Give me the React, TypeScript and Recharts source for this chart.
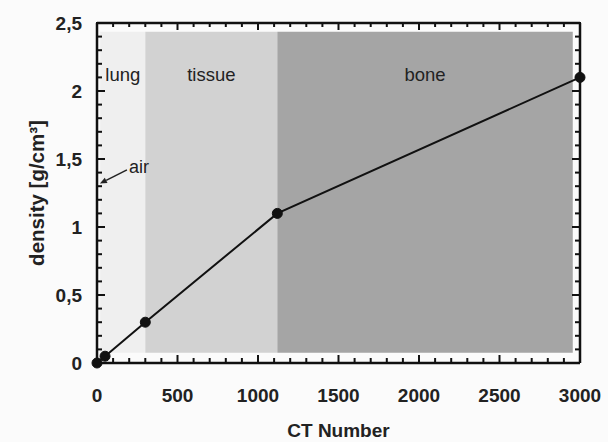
import React from 'react';
import {
  ComposedChart,
  Line,
  XAxis,
  YAxis,
  ReferenceArea,
  ReferenceLine,
  Label,
} from 'recharts';

// measured points of the calibration curve
const ctNumbers = [0, 50, 300, 1120, 3000];
const densities = [0, 0.05, 0.3, 1.1, 2.1];

// tissue regions along the CT axis
const regionNames = ['lung', 'tissue', 'bone'];
const regionStarts = [20, 300, 1120];
const regionEnds = [300, 1120, 2955];
const regionBottom = 0.075;
const regionTop = 2.435;

const xMajorTicks = [0, 500, 1000, 1500, 2000, 2500, 3000];
const yMajorTicks = [0, 0.5, 1, 1.5, 2, 2.5];

const xTicks = Array.from({ length: 31 }, (_, i) => i * 100);
const yTicks = Array.from({ length: 26 }, (_, i) => i / 10);

const X_MAX = 3000;
const Y_MAX = 2.5;

const data = ctNumbers.map((ct, i) => ({ ct, density: densities[i] }));

const W = 608;
const H = 442;
const MARGIN = { top: 22, right: 27, left: 0, bottom: 0 };
const RIGHT_AXIS_W = 1;

const FONT = '"Liberation Sans", Arial, sans-serif';
const regionFills = ['#efefef', '#d2d2d2', '#a5a5a5'];
const INK = '#111';

const isMajorX = (v: number) => xMajorTicks.includes(v);
const isMajorY = (v: number) => yMajorTicks.some((t) => Math.abs(t - v) < 1e-6);

const bottomTick = ({ x, y, payload, index }: any) => {
  const v = payload.value;
  if (!isMajorX(v)) return <g key={`bt-${index}`} />;
  return (
    <text key={`bt-${index}`} x={x} y={y + 39} textAnchor="middle" fontFamily={FONT} fontWeight="bold" fontSize={19} fill="#222">
      {v}
    </text>
  );
};

const leftTick = ({ x, y, payload, index }: any) => {
  const v = payload.value;
  if (!isMajorY(v)) return <g key={`lt-${index}`} />;
  return (
    <text key={`lt-${index}`} x={x - 15} y={y} dy="0.36em" textAnchor="end" fontFamily={FONT} fontWeight="bold" fontSize={19} fill="#222">
      {String(Math.round(v * 10) / 10).replace('.', ',')}
    </text>
  );
};

// x label + inward ticks on bottom and top frame, placed from the axis viewBox
const XAxisDecor = ({ viewBox }: any) => {
  const top = MARGIN.top;
  const bottom = viewBox.y;
  return (
    <g>
      {xTicks.map((v) => {
        const px = viewBox.x + (viewBox.width * v) / X_MAX;
        const len = isMajorX(v) ? 8 : 5;
        return (
          <g key={`xm-${v}`}>
            <line x1={px} x2={px} y1={bottom} y2={bottom - len} stroke={INK} strokeWidth={2} />
            <line x1={px} x2={px} y1={top} y2={top + len} stroke={INK} strokeWidth={2} />
          </g>
        );
      })}
      <text
        x={viewBox.x + viewBox.width / 2}
        y={viewBox.y + 74}
        textAnchor="middle"
        fontFamily={FONT}
        fontWeight="bold"
        fontSize={19}
        fill="#222"
      >
        CT Number
      </text>
    </g>
  );
};

// y label + inward ticks on left and right frame
const YAxisDecor = ({ viewBox }: any) => {
  const left = viewBox.x + viewBox.width;
  const right = W - MARGIN.right - RIGHT_AXIS_W;
  const cx = 37;
  const cy = viewBox.y + viewBox.height / 2;
  return (
    <g>
      {yTicks.map((v) => {
        const py = viewBox.y + viewBox.height * (1 - v / Y_MAX);
        const len = isMajorY(v) ? 8 : 5;
        return (
          <g key={`ym-${v}`}>
            <line x1={left} x2={left + len} y1={py} y2={py} stroke={INK} strokeWidth={2} />
            <line x1={right} x2={right - len} y1={py} y2={py} stroke={INK} strokeWidth={2} />
          </g>
        );
      })}
      <text
        x={cx}
        y={cy}
        transform={`rotate(-90 ${cx} ${cy})`}
        textAnchor="middle"
        dy="0.35em"
        fontFamily={FONT}
        fontWeight="bold"
        fontSize={20.5}
        fill="#222"
      >
        density [g/cm³]
      </text>
    </g>
  );
};

const AirArrow = ({ x1, y1, x2, y2 }: any) => {
  const ang = Math.atan2(y2 - y1, x2 - x1);
  const len = 7;
  const w = 3;
  const bx = x2 - len * Math.cos(ang);
  const by = y2 - len * Math.sin(ang);
  const px = -Math.sin(ang) * w;
  const py = Math.cos(ang) * w;
  return (
    <g>
      <line x1={x1} y1={y1} x2={bx} y2={by} stroke="#222" strokeWidth={1.5} />
      <polygon points={`${x2},${y2} ${bx + px},${by + py} ${bx - px},${by - py}`} fill="#222" />
      <text x={x1 + 2} y={y1} dy="0.2em" fontFamily={FONT} fontSize={18} fill="#222">
        air
      </text>
    </g>
  );
};

export default function App() {
  return (
    <div style={{ position: 'absolute', left: 0, top: 0, width: W, height: H, background: '#fbfbfb' }}>
      <ComposedChart width={W} height={H} data={data} margin={MARGIN}>
        {regionNames.map((name, i) => (
          <ReferenceArea
            key={`region-${name}`}
            x1={regionStarts[i]}
            x2={regionEnds[i]}
            y1={regionBottom}
            y2={regionTop}
            fill={regionFills[i]}
            fillOpacity={1}
            stroke="none"
            ifOverflow="visible"
            label={{ value: name, position: 'insideTop', offset: 36, fontSize: 18.5, fill: '#222', fontFamily: FONT }}
          />
        ))}
        <XAxis
          dataKey="ct"
          type="number"
          domain={[0, X_MAX]}
          ticks={xTicks}
          interval={0}
          tickSize={0}
          tickMargin={0}
          tickLine={false}
          height={79}
          axisLine={{ stroke: INK, strokeWidth: 2.5 }}
          tick={bottomTick}
        >
          <Label content={(p: any) => <XAxisDecor viewBox={p.viewBox} />} />
        </XAxis>
        <XAxis
          xAxisId="top"
          dataKey="ct"
          orientation="top"
          type="number"
          domain={[0, X_MAX]}
          tick={false}
          tickLine={false}
          height={1}
          axisLine={{ stroke: INK, strokeWidth: 2.5 }}
        />
        <YAxis
          dataKey="density"
          type="number"
          domain={[0, Y_MAX]}
          ticks={yTicks}
          interval={0}
          tickSize={0}
          tickMargin={0}
          tickLine={false}
          width={97}
          axisLine={{ stroke: INK, strokeWidth: 2.5 }}
          tick={leftTick}
        >
          <Label content={(p: any) => <YAxisDecor viewBox={p.viewBox} />} />
        </YAxis>
        <YAxis
          yAxisId="right"
          dataKey="density"
          orientation="right"
          type="number"
          domain={[0, Y_MAX]}
          tick={false}
          tickLine={false}
          width={RIGHT_AXIS_W}
          axisLine={{ stroke: INK, strokeWidth: 2.5 }}
        />
        <ReferenceLine
          segment={[
            { x: 186, y: 1.42 },
            { x: 18, y: 1.32 },
          ]}
          ifOverflow="visible"
          shape={<AirArrow />}
        />
        <Line
          dataKey="density"
          type="linear"
          stroke={INK}
          strokeWidth={2}
          dot={{ r: 5, fill: INK, stroke: INK, strokeWidth: 1 }}
          isAnimationActive={false}
        />
      </ComposedChart>
    </div>
  );
}
